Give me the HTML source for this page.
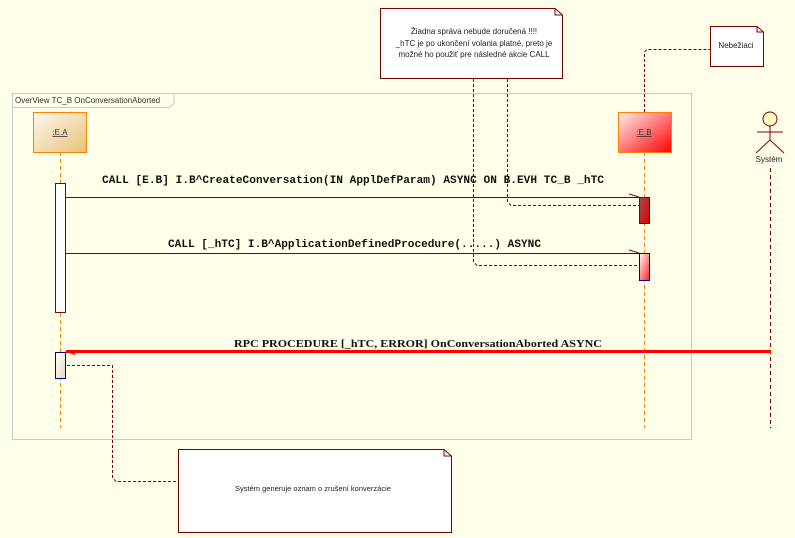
<!DOCTYPE html>
<html><head><meta charset="utf-8"><style>
body{margin:0;background:#ffffea;}
svg{display:block}
</style></head><body>
<svg width="795" height="538" viewBox="0 0 795 538" xmlns="http://www.w3.org/2000/svg" font-family="Liberation Sans, sans-serif">
<defs>
<linearGradient id="ga" x1="0" y1="0" x2="1" y2="1"><stop offset="0" stop-color="#fff8ee"/><stop offset="1" stop-color="#e6c27a"/></linearGradient>
<linearGradient id="gb" x1="0" y1="0" x2="1" y2="1"><stop offset="0" stop-color="#fff0f0"/><stop offset="1" stop-color="#ff0000"/></linearGradient>
<linearGradient id="gd" x1="0" y1="0" x2="1" y2="1"><stop offset="0" stop-color="#a05050"/><stop offset="1" stop-color="#e00000"/></linearGradient>
<linearGradient id="gw" x1="0" y1="0" x2="1" y2="1"><stop offset="0" stop-color="#fff"/><stop offset="1" stop-color="#ff2020"/></linearGradient>
<linearGradient id="gs" x1="0" y1="0" x2="1" y2="1"><stop offset="0" stop-color="#fff"/><stop offset="1" stop-color="#ead8c0"/></linearGradient>
</defs>
<rect x="12.5" y="93.5" width="679" height="346" fill="none" stroke="#c8c8d8"/>
<path d="M12.5 107.5 H170 L174 103 V93.5" fill="none" stroke="#c8c8d8"/>
<text x="15" y="103" font-size="8" fill="#333">OverView TC_B OnConversationAborted</text>
<path d="M380.5 8.5 H555 L562.5 15 V78.5 H380.5 Z" fill="#fff" stroke="#800000"/>
<path d="M555 8.5 V15 H562.5" fill="none" stroke="#800000"/>
<text font-size="8" fill="#222" text-anchor="middle"><tspan x="474" y="34">Žiadna správa nebude doručená !!!!</tspan><tspan x="474" y="46">_hTC je po ukončení volania platné, preto je</tspan><tspan x="474" y="57">možné ho použiť pre následné akcie CALL</tspan></text>
<path d="M710.5 26.5 H757 L763.5 32 V66.5 H710.5 Z" fill="#fff" stroke="#800000"/>
<path d="M757 26.5 V32 H763.5" fill="none" stroke="#800000"/>
<text x="736" y="48" font-size="8" fill="#222" text-anchor="middle">Nebežiaci</text>
<path d="M178.5 449.5 H444 L451.5 456 V532.5 H178.5 Z" fill="#fff" stroke="#800000"/>
<path d="M444 449.5 V456 H451.5" fill="none" stroke="#800000"/>
<text x="313" y="491" font-size="7.5" fill="#222" text-anchor="middle">Systém generuje oznam o zrušení konverzácie</text>
<g fill="none" stroke="#800000" stroke-dasharray="3,2">
<path d="M473.5 79 V262 L477 265.5 H639"/>
<path d="M507.5 79 V202 L511 205.5 H639"/>
<path d="M644.5 112 V52 L647 49.5 H710"/>
<path d="M67 365.5 H112.5 V478 L116 481.5 H178"/>
</g>
<g stroke="#ff8000" stroke-dasharray="4,3">
<line x1="60.5" y1="152" x2="60.5" y2="428"/>
<line x1="644.5" y1="152" x2="644.5" y2="428"/>
</g>
<line x1="770.5" y1="168" x2="770.5" y2="428" stroke="#800000" stroke-dasharray="4,3"/>
<rect x="33.5" y="112.5" width="53" height="40" fill="url(#ga)" stroke="#ff8000"/>
<text x="60" y="135" font-size="8" fill="#333" text-anchor="middle" text-decoration="underline">:E.A</text>
<rect x="618.5" y="112.5" width="53" height="40" fill="url(#gb)" stroke="#ff8000"/>
<text x="644" y="135" font-size="8" fill="#333" text-anchor="middle" text-decoration="underline">:E.B</text>
<g stroke="#800000" fill="none">
<circle cx="770" cy="119" r="7" fill="#ffffc8"/>
<line x1="770" y1="126" x2="770" y2="140"/>
<line x1="757" y1="132" x2="783" y2="132"/>
<path d="M756 153 L770 140 L784 153"/>
</g>
<text x="769" y="162" font-size="8" fill="#222" text-anchor="middle">Systém</text>
<rect x="55.5" y="183.5" width="10" height="129" fill="#fff" stroke="#800000"/>
<rect x="55.5" y="352.5" width="10" height="26" fill="url(#gs)" stroke="#000080"/>
<rect x="639.5" y="197.5" width="10" height="26" fill="url(#gd)" stroke="#800000"/>
<rect x="639.5" y="253.5" width="10" height="27" fill="url(#gw)" stroke="#000080"/>
<g stroke="#800000" fill="none">
<line x1="66" y1="197.5" x2="639" y2="197.5"/>
<path d="M629 194 L639 197"/>
<line x1="66" y1="253.5" x2="639" y2="253.5"/>
<path d="M629 250 L639 253"/>
</g>
<line x1="66" y1="351.5" x2="771" y2="351.5" stroke="#ff0000" stroke-width="3"/>
<path d="M66 352 L75 351 L75 355 Z" fill="#ff0000"/>
<g font-family="Liberation Mono, monospace" font-size="11" font-weight="bold" fill="#111">
<text x="102" y="183" textLength="502" lengthAdjust="spacingAndGlyphs">CALL [E.B] I.B^CreateConversation(IN ApplDefParam) ASYNC ON B.EVH TC_B _hTC</text>
<text x="168" y="247" textLength="373" lengthAdjust="spacingAndGlyphs">CALL [_hTC] I.B^ApplicationDefinedProcedure(.....) ASYNC</text>
<text x="234" y="347" font-family="Liberation Serif, serif" font-size="10.5" textLength="368" lengthAdjust="spacingAndGlyphs">RPC PROCEDURE [_hTC, ERROR] OnConversationAborted ASYNC</text>
</g>
</svg>
</body></html>
